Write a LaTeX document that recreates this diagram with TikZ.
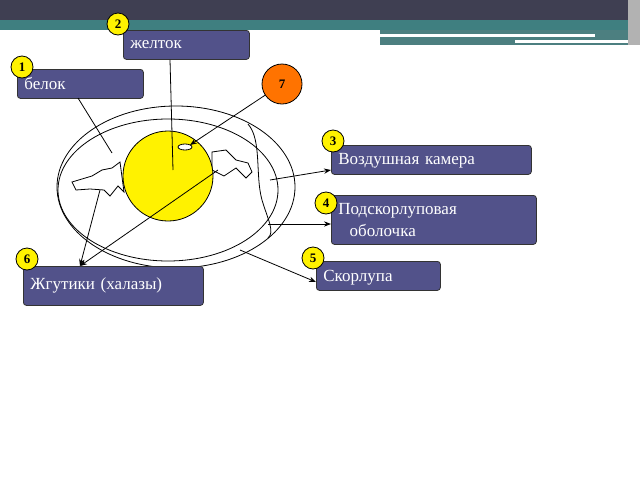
\documentclass[tikz,border=0pt]{standalone}
\usepackage{fontspec}
\setmainfont{Liberation Serif}
\usetikzlibrary{arrows.meta}
\definecolor{bandDark}{HTML}{3F3F52}
\definecolor{bandTeal}{HTML}{3F7F80}
\definecolor{boxFill}{HTML}{52528A}
\tikzset{
  lab/.style={draw=black!80,fill=boxFill,rounded corners=3pt,text=white,anchor=north west,
    inner xsep=7pt,inner ysep=2pt,font=\fontsize{17}{22}\selectfont,align=left,text width=#1},
  num/.style={circle,draw=black,fill=yellow,inner sep=0pt,minimum size=22pt,font=\bfseries\fontsize{13}{13}\selectfont},
  ptr/.style={-{Stealth[length=7pt]},line width=0.8pt},
  every path/.append style={line width=0.8pt},
}
\begin{document}
\begin{tikzpicture}[x=1pt,y=-1pt]
\useasboundingbox (0,0) rectangle (640,480);

% Draw the top band
\fill[bandDark] (0,0) rectangle (640,20);
\fill[bandTeal] (0,20) rectangle (640,30);
\fill[bandTeal!80!gray] (380,30) rectangle (640,45);
\fill[white] (380,34) rectangle (595,37);
\fill[white] (515,40) rectangle (630,43);
\fill[gray!60] (628,0) rectangle (640,45);

% Draw the egg
\draw (176,187) ellipse (119 and 81);
\draw (168,190) ellipse (110 and 71);
\draw (248,124) .. controls (262,140) and (255,175) .. (262,200)
  .. controls (268,220) and (275,232) .. (268,238);
\filldraw[fill=white] (72,182) -- (92,176) -- (102,170) -- (112,168) -- (120,162) -- (124,192)
  -- (118,186) -- (110,196) -- (104,190) -- (90,189) -- (76,190) -- cycle;
\filldraw[fill=white] (212,152) -- (226,150) -- (236,160) -- (248,163) -- (252,172) -- (246,178)
  -- (236,168) -- (224,176) -- (212,170) -- cycle;
\filldraw[fill=yellow] (168,176) circle (45);
\filldraw[fill=white] (185,147) ellipse (7 and 3);

% Draw the labels
\node[lab=112pt,minimum height=29pt,text depth=1pt,yshift=-1pt] (yolk) at (123,29) {желток};
\node[lab=112pt,minimum height=29pt,text depth=1pt] (white) at (17,69) {белок};
\node[lab=186pt,minimum height=29pt,text depth=1pt] (air) at (331,145) {Воздушная камера};
\node[lab=191pt,minimum height=49pt] (membr) at (331,195) {Подскорлуповая\\\ \ оболочка};
\node[lab=110pt,minimum height=29pt,text depth=1pt] (shell) at (316,261) {Скорлупа};
\node[lab=166pt,minimum height=39pt] (chal) at (23,266) {Жгутики (халазы)};

% Draw the numbers
\node[num] (n2) at (118,24) {2};
\node[num] (n1) at (22,67) {1};
\node[num,fill=orange!90!red,minimum size=40pt] (n7) at (282,84) {7};
\node[num] (n3) at (333,141) {3};
\node[num] (n4) at (326,203) {4};
\node[num] (n5) at (313,258) {5};
\node[num] (n6) at (27,259) {6};

% Draw the pointers
\coordinate (pYolk) at (173,170);
\coordinate (pWhite) at (112,153);
\coordinate (pAir) at (270,180);
\coordinate (pMembr) at (268,224);
\coordinate (pShell) at (240,250);
\coordinate (pChalL) at (100,190);
\coordinate (pChalR) at (218,170);
\coordinate (pDisc) at (190,145);
\draw (pYolk) -- (yolk.south west -| 170,0);
\draw (pWhite) -- (78,98);
\draw[ptr] (n7) -- (pDisc);
\draw[ptr] (pAir) -- (air.west |- 0,170);
\draw[ptr] (pMembr) -- (membr.west |- 0,224);
\draw[ptr] (pShell) -- (shell.west |- 0,282);
\draw[ptr] (pChalL) -- (80,266);
\draw[ptr] (pChalR) -- (80,266);

\end{tikzpicture}
\end{document}
